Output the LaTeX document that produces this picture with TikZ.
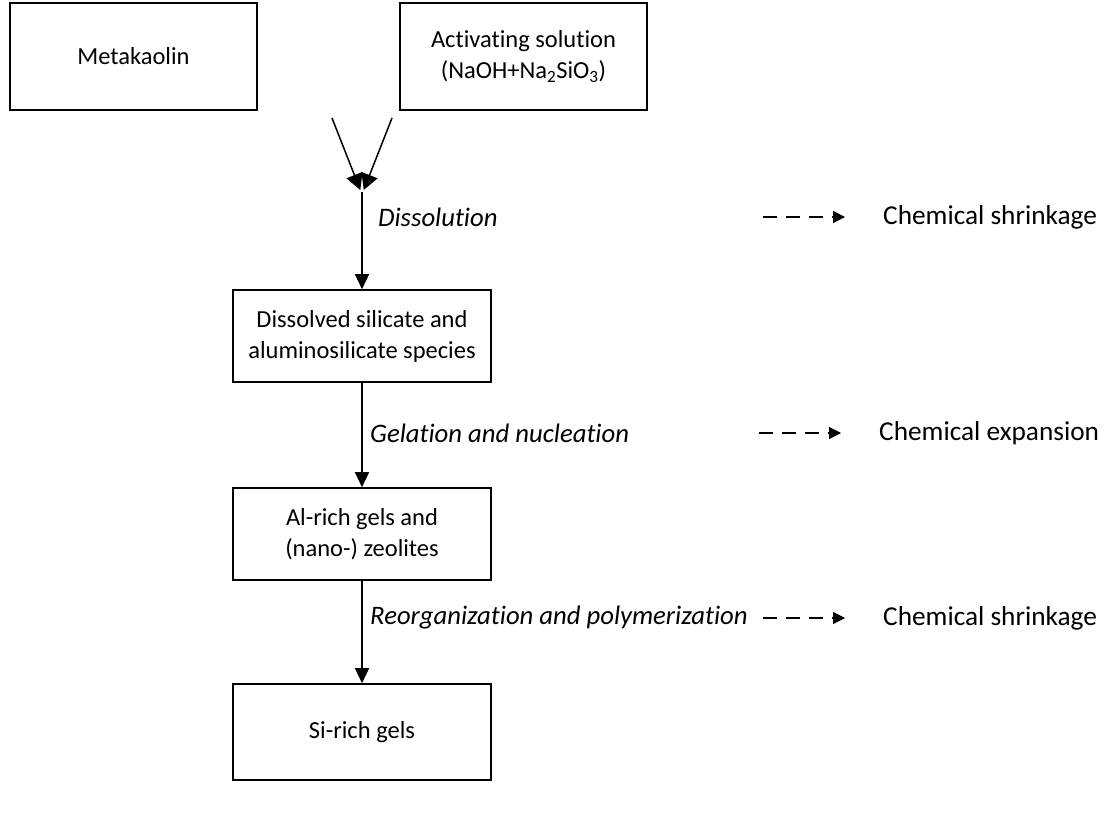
\documentclass[tikz,border=0pt]{standalone}
\usepackage{fontspec}
\setmainfont{Carlito}[Ligatures=NoCommon]
\usetikzlibrary{arrows.meta}
\begin{document}
\begin{tikzpicture}[x=1pt, y=-1pt,
    >={Triangle[length=15pt, width=14pt]},
    box/.style={draw, line width=1.6pt, align=center, minimum width=258pt,
        minimum height=92pt, inner sep=0pt, font=\fontsize{24.5}{31}\selectfont},
    flow/.style={->, line width=1.5pt},
    stage/.style={anchor=west, inner sep=0pt, font=\fontsize{26.7}{30}\selectfont\itshape},
    effect/.style={anchor=west, inner sep=0pt, font=\fontsize{27.3}{31}\selectfont},
    change/.style={-{Triangle[length=12pt, width=12pt]}, line width=1.1pt,
        dash pattern=on 14pt off 9pt}]
    \useasboundingbox (0,0) rectangle (1110,832);
    \def\colx{362}
    % Raw materials
    \node[box, minimum width=247pt, minimum height=107pt] (meta) at (133.5,56.5) {Metakaolin};
    \node[box, minimum width=247pt, minimum height=107pt] (act) at (523.5,56.5)
        {Activating solution\\(NaOH+Na\textsubscript{2}SiO\textsubscript{3})};
    % Products
    \node[box] (dis) at (\colx,336) {Dissolved silicate and\\aluminosilicate species};
    \node[box] (alr) at (\colx,534) {Al-rich gels and\\(nano-) zeolites};
    \node[box, minimum height=96pt] (sir) at (\colx,732) {Si-rich gels};
    % Mixing
    \coordinate (mixl) at (332,118);
    \coordinate (mixr) at (392,118);
    \coordinate (tipl) at (360.3,190);
    \coordinate (tipr) at (363.7,190);
    \coordinate (mixo) at (\colx,192);
    \draw[flow, -{Triangle[length=16pt, width=17pt]}] (mixl) -- (tipl);
    \draw[flow, -{Triangle[length=16pt, width=17pt]}] (mixr) -- (tipr);
    % Reaction steps
    \draw[flow] (mixo) -- (dis.north);
    \draw[flow] (dis.south) -- (alr.north);
    \draw[flow] (alr.south) -- (sir.north);
    \node[stage] (st1) at (378,217) {Dissolution};
    \node[stage] (st2) at (370,433) {Gelation and nucleation};
    \node[stage] (st3) at (370,618) {Reorganization and polymerization};
    % Volume changes
    \node[effect] (ef1) at (883,217) {Chemical shrinkage};
    \node[effect] (ef2) at (879,433) {Chemical expansion};
    \node[effect] (ef3) at (883,618) {Chemical shrinkage};
    \foreach \e in {ef1,ef2,ef3}
        \draw[change] ([xshift=-120pt]\e.west) -- ([xshift=-38pt]\e.west);
\end{tikzpicture}
\end{document}
